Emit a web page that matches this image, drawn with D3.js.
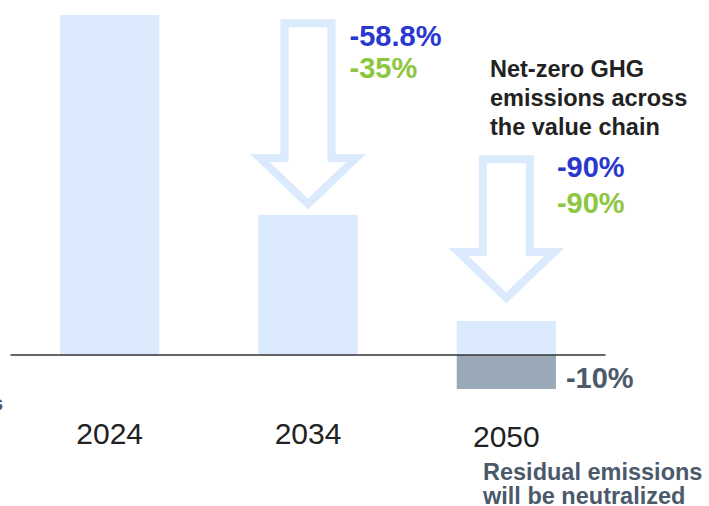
<!DOCTYPE html>
<html>
<head>
<meta charset="utf-8">
<script src="https://cdn.jsdelivr.net/npm/d3@7"></script>
<style>
  body { margin: 0; background: #fff; }
  svg { display: block; font-family: "Liberation Sans", Arial, sans-serif; }
</style>
</head>
<body>
<svg class="chart"></svg>
<script>
// chart data
YEARS = ["2024", "2034", "2050"];
EMISSIONS = [100, 41.2, 10];      // index, 2024 = 100
RESIDUAL = [0, 0, -10];           // neutralized residual emissions
ARROW_FROM = ["2034", "2050"];
ARROW_START = [97.6, 57.6];
ARROW_END = [44.4, 16.8];
TARGET_SCOPE12 = ["-58.8%", "-90%"];
TARGET_SCOPE3 = ["-35%", "-90%"];
RESIDUAL_LABEL = "-10%";
NET_ZERO_NOTE = ["Net-zero GHG", "emissions across", "the value chain"];
RESIDUAL_NOTE = ["Residual emissions", "will be neutralized"];

WIDTH = 709;
HEIGHT = 506;

BAR_COLOR = "#dbeafc";
RESIDUAL_COLOR = "#9aa9b7";
BLUE = "#2a38cf";
GREEN = "#8dc63f";
SLATE = "#4b5a6b";
DARK = "#222";

function buildChart() {
    svg = d3.select(".chart").attr("width", WIDTH).attr("height", HEIGHT);

    x = d3.scaleBand()
        .domain(YEARS)
        .range([10.5, 605.5])
        .paddingInner(0.5)
        .paddingOuter(0.25);

    y = d3.scaleLinear()
        .domain([-10, 100])
        .range([389, 15]);

    addBars(svg, x, y);
    addArrows(svg, x, y);
    addBaseline(svg, x, y);
    addLabels(svg, x, y);
}

function addBars(svg, x, y) {
    svg.selectAll(".bar")
        .data(YEARS)
        .enter().append("rect")
        .attr("class", "bar")
        .attr("x", function(d) { return x(d); })
        .attr("width", x.bandwidth())
        .attr("y", function(d, i) { return y(EMISSIONS[i]); })
        .attr("height", function(d, i) { return y(0) - y(EMISSIONS[i]); })
        .attr("fill", BAR_COLOR);

    svg.selectAll(".residual")
        .data(YEARS.filter(function(d, i) { return RESIDUAL[i] < 0; }))
        .enter().append("rect")
        .attr("class", "residual")
        .attr("x", function(d) { return x(d); })
        .attr("width", x.bandwidth())
        .attr("y", y(0))
        .attr("height", function(d) { return y(RESIDUAL[YEARS.indexOf(d)]) - y(0); })
        .attr("fill", RESIDUAL_COLOR);
}

function arrowPath(cx, top, tip) {
    shaft = 23.5;  // half shaft width
    head = 48;     // half head width
    headH = 46;
    p = d3.path();
    p.moveTo(cx - shaft, top);
    p.lineTo(cx + shaft, top);
    p.lineTo(cx + shaft, tip - headH);
    p.lineTo(cx + head, tip - headH);
    p.lineTo(cx, tip);
    p.lineTo(cx - head, tip - headH);
    p.lineTo(cx - shaft, tip - headH);
    p.closePath();
    return p.toString();
}

function addArrows(svg, x, y) {
    svg.selectAll(".arrow")
        .data(ARROW_FROM)
        .enter().append("path")
        .attr("class", "arrow")
        .attr("d", function(d, i) {
            return arrowPath(x(d) + x.bandwidth() / 2, y(ARROW_START[i]), y(ARROW_END[i]));
        })
        .attr("fill", "#fff")
        .attr("stroke", BAR_COLOR)
        .attr("stroke-width", 8)
        .attr("stroke-linejoin", "miter");
}

function addBaseline(svg, x, y) {
    svg.append("line")
        .attr("x1", x.range()[0])
        .attr("x2", x.range()[1])
        .attr("y1", y(0))
        .attr("y2", y(0))
        .attr("stroke", "#333")
        .attr("stroke-width", 1.5);
}

function addLabels(svg, x, y) {
    // year labels under the bars
    svg.selectAll(".year")
        .data(YEARS)
        .enter().append("text")
        .attr("class", "year")
        .attr("x", function(d) { return x(d) + x.bandwidth() / 2; })
        .attr("y", function(d, i) { return i == 2 ? 447 : 444; })
        .attr("text-anchor", "middle")
        .attr("font-size", 30)
        .attr("fill", DARK)
        .text(function(d) { return d; });

    // reduction targets next to arrows
    dx = [-8, 1];
    y1 = [46, 177];
    svg.selectAll(".t12")
        .data(ARROW_FROM)
        .enter().append("text")
        .attr("x", function(d, i) { return x(d) + x.bandwidth() + dx[i]; })
        .attr("y", function(d, i) { return y1[i]; })
        .attr("font-size", 29)
        .attr("font-weight", "bold")
        .attr("fill", BLUE)
        .text(function(d, i) { return TARGET_SCOPE12[i]; });

    svg.selectAll(".t3")
        .data(ARROW_FROM)
        .enter().append("text")
        .attr("x", function(d, i) { return x(d) + x.bandwidth() + dx[i]; })
        .attr("y", function(d, i) { return y1[i] + (i == 0 ? 32 : 36); })
        .attr("font-size", 29)
        .attr("font-weight", "bold")
        .attr("fill", GREEN)
        .text(function(d, i) { return TARGET_SCOPE3[i]; });

    svg.append("text")
        .attr("x", x("2050") + x.bandwidth() + 10)
        .attr("y", 388)
        .attr("font-size", 29)
        .attr("font-weight", "bold")
        .attr("fill", SLATE)
        .text(RESIDUAL_LABEL);

    svg.append("text")
        .attr("font-size", 23.5)
        .attr("font-weight", "bold")
        .attr("fill", DARK)
        .selectAll("tspan")
        .data(NET_ZERO_NOTE)
        .enter().append("tspan")
        .attr("x", 490)
        .attr("y", function(d, i) { return 77 + i * 29; })
        .text(function(d) { return d; });

    svg.append("text")
        .attr("font-size", 23.5)
        .attr("font-weight", "bold")
        .attr("fill", SLATE)
        .selectAll("tspan")
        .data(RESIDUAL_NOTE)
        .enter().append("tspan")
        .attr("x", 483)
        .attr("y", function(d, i) { return 480 + i * 24; })
        .text(function(d) { return d; });

    // clipped label fragment at the left edge
    svg.append("text")
        .attr("x", 3)
        .attr("y", 410)
        .attr("text-anchor", "end")
        .attr("font-size", 20)
        .attr("font-weight", "bold")
        .attr("fill", SLATE)
        .text("s");
}

buildChart();
</script>
</body>
</html>
